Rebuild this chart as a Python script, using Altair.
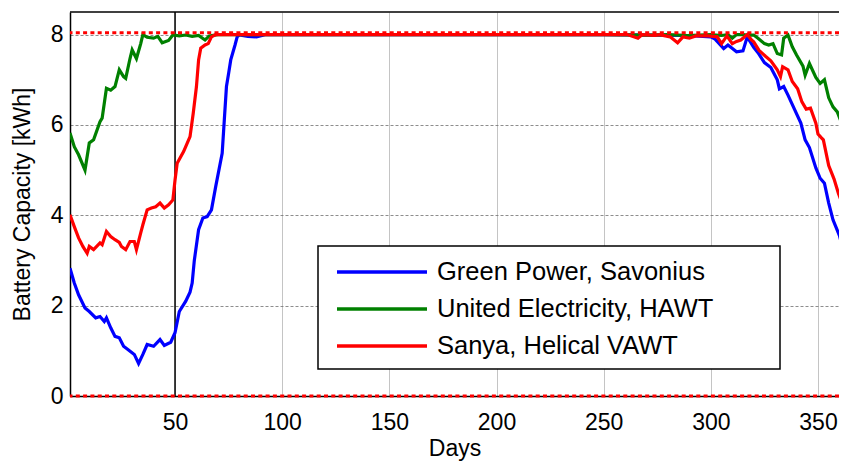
import altair as alt
import pandas as pd

# ---------------- data ----------------
series_names = ["Green Power, Savonius", "United Electricity, HAWT", "Sanya, Helical VAWT"]
series_colors = ["#0000FF", "#008000", "#FF0000"]

blue_days = [1, 3, 5, 8, 10, 13, 15, 17, 18, 20, 22, 24, 26, 28, 31, 33, 35, 37, 40, 43, 45, 48,
             50, 52, 55, 57, 58, 59, 61, 63, 65, 67, 69, 72, 73, 74, 75, 76, 78, 79, 80, 84, 88, 92,
             100, 150, 200, 250, 289, 300, 302, 306, 308, 312, 315, 317, 320, 322, 325, 328, 331,
             332, 334, 336, 339, 342, 344, 346, 349, 351, 353, 355, 357, 360, 362, 363, 365]
blue_cap = [2.83, 2.50, 2.24, 1.95, 1.87, 1.73, 1.76, 1.65, 1.73, 1.51, 1.32, 1.29, 1.10, 1.03,
            0.92, 0.72, 0.92, 1.14, 1.10, 1.25, 1.12, 1.19,
            1.40, 1.87, 2.10, 2.30, 2.50, 3.00, 3.68, 3.94, 3.97, 4.12, 4.64, 5.37, 6.11, 6.85, 7.14,
            7.44, 7.77, 7.95, 7.99, 7.96, 7.95, 8.00,
            8.00, 8.00, 8.00, 8.00, 7.98, 7.95, 7.90, 7.69, 7.77, 7.62, 7.64, 7.95, 7.72, 7.60, 7.38,
            7.27, 7.00, 6.80, 6.85, 6.66, 6.35, 6.04, 5.67, 5.50, 5.05, 4.82, 4.71, 4.27, 3.90, 3.55,
            3.20, 3.00, 2.70]

green_days = [1, 3, 5, 8, 10, 12, 15, 16, 18, 20, 22, 24, 26, 27, 29, 30, 32, 34, 35, 37, 40, 42,
              44, 47, 49, 52, 55, 58, 61, 64, 66, 70, 100, 150, 200, 250, 270, 280, 289, 300, 305,
              308, 310, 312, 315, 317, 320, 322, 325, 327, 329, 331, 333, 334, 336, 338, 340, 343,
              344, 346, 349, 351, 353, 355, 357, 359, 361, 363, 365]
green_cap = [5.82, 5.52, 5.34, 5.00, 5.60, 5.67, 6.07, 6.15, 6.81, 6.77, 6.85, 7.22, 7.07, 7.03,
             7.47, 7.66, 7.47, 7.80, 8.00, 7.94, 7.92, 7.96,
             7.82, 7.87, 7.99, 7.97, 7.99, 7.96, 7.98, 7.88, 7.97, 8.00, 8.00, 8.00, 8.00, 8.00,
             7.99, 8.00, 7.98, 8.00, 7.98,
             8.00, 7.92, 8.00, 8.00, 7.99, 7.99, 7.92, 7.80, 7.77, 7.80, 7.58, 7.55, 7.92, 7.99,
             7.73, 7.55, 7.30,
             7.10, 7.36, 7.05, 6.92, 7.00, 6.60, 6.40, 6.29, 6.04, 5.70, 5.40]

red_days = [1, 3, 5, 7, 9, 10, 12, 15, 16, 18, 20, 22, 24, 25, 27, 29, 31, 32, 34, 35, 37, 39, 41,
            43, 45, 47, 49, 50, 51, 54, 55, 57, 58.5, 60, 61, 62, 64, 65.5, 67, 69, 100, 150, 200,
            250, 261, 266, 268, 274, 276, 281, 284.5, 287, 290, 293, 299, 303, 305, 307.5, 310, 312,
            314, 317, 319, 320, 322.5, 325.5, 328, 331, 332.5, 333.5, 336, 338, 340.5, 342.5, 344.5,
            346.5, 349, 350, 351.5, 352.5, 355, 357.5, 359.5, 361, 362.5, 365]
red_cap = [4.01, 3.75, 3.50, 3.31, 3.16, 3.31, 3.24, 3.39, 3.35, 3.64, 3.53, 3.46, 3.40, 3.31,
           3.24, 3.42, 3.42, 3.24, 3.61, 3.79, 4.12, 4.16, 4.19,
           4.27, 4.16, 4.23, 4.34, 4.78, 5.15, 5.41, 5.52, 5.74, 6.26, 6.85, 7.44, 7.70, 7.77, 7.80,
           7.95, 8.00, 8.00, 8.00, 8.00,
           8.00, 8.00, 7.92, 8.00, 7.98, 8.00, 7.95, 7.82, 7.95, 7.92, 7.97, 7.97, 7.95, 7.80, 7.97,
           7.80, 7.85,
           7.88, 8.00, 7.88, 7.84, 7.65, 7.52, 7.42, 7.22, 7.07, 7.29, 7.22, 6.96, 6.80, 6.51, 6.35,
           6.37, 6.04, 5.80, 5.72, 5.67, 5.10, 4.80, 4.49, 4.30, 4.08, 3.70]

series_days = [blue_days, green_days, red_days]
series_caps = [blue_cap, green_cap, red_cap]

capacity_limits = [0, 8.04]
marker_day = [50]
x_ticks = [50, 100, 150, 200, 250, 300, 350]
y_ticks = [0, 2, 4, 6, 8]
x_domain = [1, 359.8]     # visible part of the year (the original is cut at the right edge)
y_domain = [0, 8.5]

# ---------------- chart ----------------
W, H = 769, 384
FONT = "Liberation Sans"

frames = []
for name, d, c in zip(series_names, series_days, series_caps):
    frames.append(pd.DataFrame({"series": name, "day": d, "cap": c}))

x_axis = alt.Axis(values=x_ticks, title="Days", grid=True, gridColor="#c4c4c4", gridWidth=1,
                  labelPadding=15, titlePadding=3)
y_axis = alt.Axis(values=y_ticks, title="Battery Capacity [kWh]", grid=True, gridColor="#707070",
                  gridDash=[3, 2], gridWidth=0.8, labelPadding=7, titlePadding=16)
xs = alt.Scale(domain=x_domain, nice=False, zero=False)
ys = alt.Scale(domain=y_domain, nice=False, zero=False)


def xenc():
    return alt.X("day:Q", scale=xs, axis=x_axis)


def yenc():
    return alt.Y("cap:Q", scale=ys, axis=y_axis)


layers = []
for df, col in zip(frames, series_colors):
    layers.append(
        alt.Chart(df).mark_line(strokeWidth=3.2, clip=True, color=col).encode(x=xenc(), y=yenc())
    )

marker = alt.Chart(pd.DataFrame({"day": marker_day})).mark_rule(
    color="black", strokeWidth=1.5).encode(x=xenc())

limits = alt.Chart(pd.DataFrame({"cap": capacity_limits})).mark_rule(
    color="#FF0000", strokeWidth=3, strokeDash=[4, 3.3]).encode(y=yenc())

top_border = alt.Chart(pd.DataFrame({"a": [0]})).mark_rule(color="black", strokeWidth=1.5).encode(
    x=alt.value(0), x2=alt.value(W), y=alt.value(0))

# legend box (MATLAB-style, drawn manually)
leg_box = alt.Chart(pd.DataFrame({"a": [0]})).mark_rect(
    fill="white", stroke="black", strokeWidth=1.5).encode(
    x=alt.value(248), x2=alt.value(710), y=alt.value(234), y2=alt.value(357))
leg_layers = [leg_box]
row_y = [260, 297, 334]
for name, col, yy in zip(series_names, series_colors, row_y):
    leg_layers.append(
        alt.Chart(pd.DataFrame({"a": [0]})).mark_rule(color=col, strokeWidth=3.5).encode(
            x=alt.value(267), x2=alt.value(357), y=alt.value(yy))
    )
    leg_layers.append(
        alt.Chart(pd.DataFrame({"a": [0]})).mark_text(
            align="left", baseline="middle", fontSize=25.5, font=FONT, color="black").encode(
            x=alt.value(367), y=alt.value(yy), text=alt.value(name))
    )

chart = alt.layer(marker, *layers, limits, top_border, *leg_layers).properties(
    width=W, height=H,
    autosize=alt.AutoSizeParams(type="none"),
    padding={"left": 62, "top": 4, "right": 0, "bottom": 66},
).configure_axis(
    labelFont=FONT, titleFont=FONT, labelFontSize=23, titleFontSize=23,
    titleFontWeight="normal", labelColor="black", titleColor="black",
    domainColor="black", domainWidth=1.5, ticks=False, tickSize=0,
).configure_view(stroke=None)

chart.save("out.html", embed_options={"renderer": "svg", "actions": False})
